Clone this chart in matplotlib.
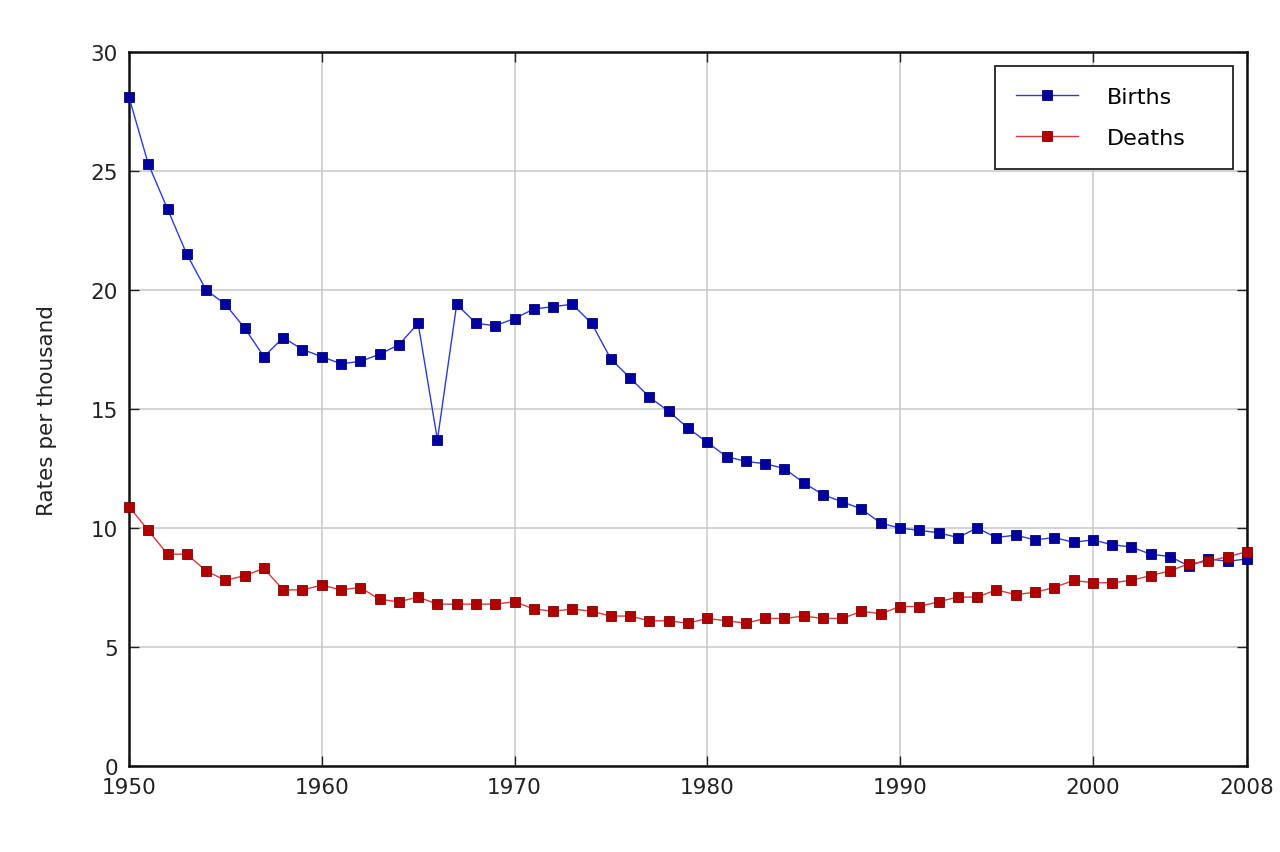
import matplotlib
matplotlib.use("Agg")
import matplotlib.pyplot as plt

years = list(range(1950, 2009))
births = [28.1, 25.3, 23.4, 21.5, 20.0, 19.4, 18.4, 17.2, 18.0, 17.5,
          17.2, 16.9, 17.0, 17.3, 17.7, 18.6, 13.7, 19.4, 18.6, 18.5,
          18.8, 19.2, 19.3, 19.4, 18.6, 17.1, 16.3, 15.5, 14.9, 14.2,
          13.6, 13.0, 12.8, 12.7, 12.5, 11.9, 11.4, 11.1, 10.8, 10.2,
          10.0, 9.9, 9.8, 9.6, 10.0, 9.6, 9.7, 9.5, 9.6, 9.4,
          9.5, 9.3, 9.2, 8.9, 8.8, 8.4, 8.7, 8.6, 8.7]
deaths = [10.9, 9.9, 8.9, 8.9, 8.2, 7.8, 8.0, 8.3, 7.4, 7.4,
          7.6, 7.4, 7.5, 7.0, 6.9, 7.1, 6.8, 6.8, 6.8, 6.8,
          6.9, 6.6, 6.5, 6.6, 6.5, 6.3, 6.3, 6.1, 6.1, 6.0,
          6.2, 6.1, 6.0, 6.2, 6.2, 6.3, 6.2, 6.2, 6.5, 6.4,
          6.7, 6.7, 6.9, 7.1, 7.1, 7.4, 7.2, 7.3, 7.5, 7.8,
          7.7, 7.7, 7.8, 8.0, 8.2, 8.5, 8.6, 8.8, 9.0]
xticks = [1950, 1960, 1970, 1980, 1990, 2000, 2008]
yticks = [0, 5, 10, 15, 20, 25, 30]

plt.rcParams['font.family'] = ['DejaVu Sans']
fig = plt.figure(figsize=(12.8, 8.53), dpi=100)
ax = fig.add_axes([129/1280, 1 - 767/853, (1247 - 129)/1280, (767 - 53)/853])

ax.plot(years, births, color='#2a3cd8', lw=1.0, marker='s', markersize=6.5,
        markerfacecolor='#0000a0', markeredgecolor='#000078', markeredgewidth=0.6,
        label='Births', clip_on=False, zorder=3)
ax.plot(years, deaths, color='#d83a3a', lw=1.0, marker='s', markersize=6.5,
        markerfacecolor='#b00000', markeredgecolor='#800000', markeredgewidth=0.6,
        label='Deaths', clip_on=False, zorder=3)

ax.set_xlim(1950, 2008)
ax.set_ylim(0, 30)
ax.set_xticks(xticks)
ax.set_yticks(yticks)
ax.tick_params(direction='in', length=7, width=1, top=True, right=True,
               labelsize=15.5, colors='#222222', pad=8)
ax.grid(True, color='#c8c8c8', lw=1.1, zorder=0)
ax.set_axisbelow(True)
for s in ax.spines.values():
    s.set_linewidth(1.8)
    s.set_color('#111111')

ax.set_ylabel('Rates per thousand', fontsize=15.5, color='#222222', labelpad=24)

x0 = (995 - 129) / 1118
w = (1233 - 995) / 1118
ytop = (767 - 67) / 714
leg = ax.legend(loc='upper left', bbox_to_anchor=(x0, ytop - 0.2, w, 0.2),
                mode='expand', numpoints=1, fontsize=16, handlelength=2.8,
                handletextpad=1.3, borderpad=0.95, labelspacing=0.95,
                fancybox=False, framealpha=1, borderaxespad=0)
leg.get_frame().set_edgecolor('#222222')
leg.get_frame().set_linewidth(1.3)

fig.savefig('out.png', dpi=100)
